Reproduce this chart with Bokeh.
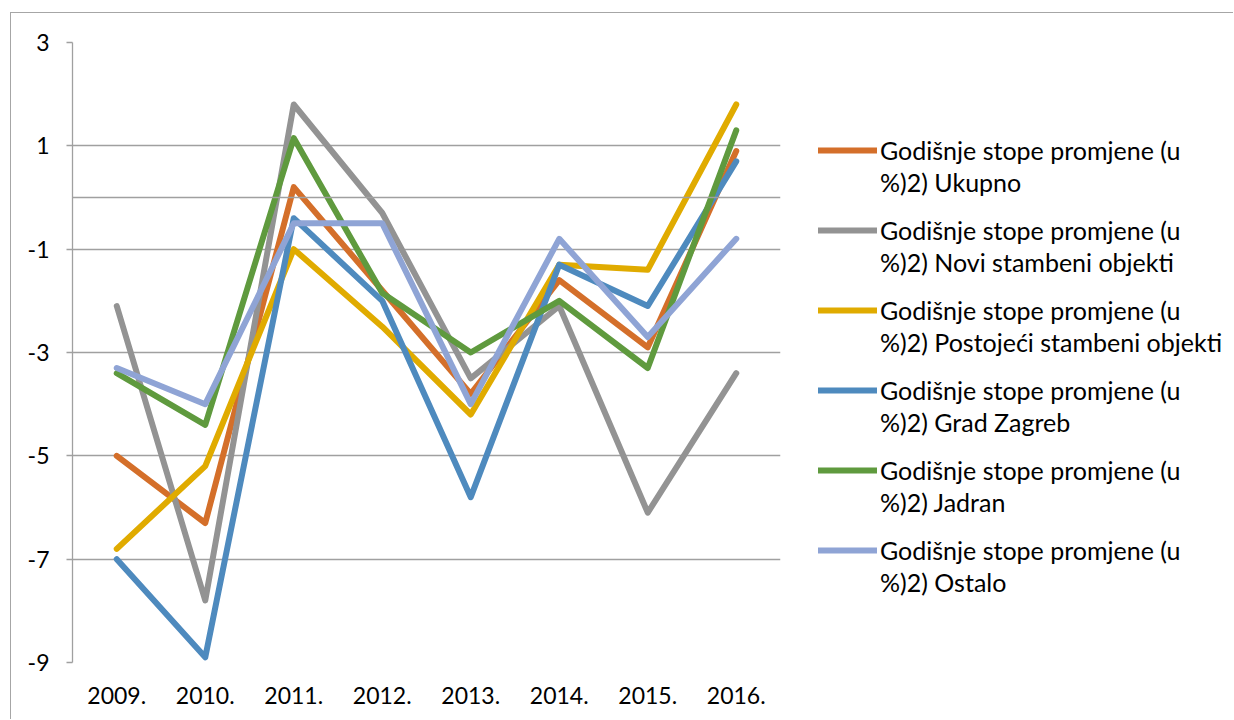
from bokeh.plotting import figure
from bokeh.layouts import row
from bokeh.models import ColumnDataSource, FixedTicker, Span, Legend, LegendItem, PrintfTickFormatter, Range1d
from bokeh.embed import file_html
from bokeh.resources import INLINE

years = ["2009.", "2010.", "2011.", "2012.", "2013.", "2014.", "2015.", "2016."]

ukupno = [-5.0, -6.3, 0.2, -1.8, -3.8, -1.6, -2.9, 0.9]
novi = [-2.1, -7.8, 1.8, -0.3, -3.5, -2.1, -6.1, -3.4]
postojeci = [-6.8, -5.2, -1.0, -2.5, -4.2, -1.3, -1.4, 1.8]
zagreb = [-7.0, -8.9, -0.4, -2.0, -5.8, -1.3, -2.1, 0.7]
jadran = [-3.4, -4.4, 1.15, -1.85, -3.0, -2.0, -3.3, 1.3]
ostalo = [-3.3, -4.0, -0.5, -0.5, -4.0, -0.8, -2.7, -0.8]

label_line1 = ["Godišnje stope promjene (u"] * 6
label_line2 = [
    "%)2) Ukupno",
    "%)2) Novi stambeni objekti",
    "%)2) Postojeći stambeni objekti",
    "%)2) Grad Zagreb",
    "%)2) Jadran",
    "%)2) Ostalo",
]
series_values = [ukupno, novi, postojeci, zagreb, jadran, ostalo]
colors = ["#D46F2A", "#939393", "#E0AB00", "#4E8ABE", "#5F9A3E", "#8FA4D5"]
y_ticks = [3, 1, -1, -3, -5, -7, -9]

FONT = "Lato"
H = 706

p = figure(
    x_range=years, y_range=(-9, 3),
    width=771, height=H,
    output_backend="svg", toolbar_location=None,
    min_border_left=61, min_border_right=2, min_border_top=29, min_border_bottom=57,
)
p.outline_line_color = None
p.background_fill_color = "white"
p.border_fill_color = "white"

p.xgrid.grid_line_color = None
p.ygrid.grid_line_color = "#A0A0A0"
p.ygrid.grid_line_width = 1.3
p.ygrid.ticker = FixedTicker(ticks=y_ticks)

p.yaxis.ticker = FixedTicker(ticks=y_ticks)
p.yaxis.formatter = PrintfTickFormatter(format="%d")
p.yaxis.axis_line_color = "#A0A0A0"
p.yaxis.axis_line_width = 1.3
p.yaxis.major_tick_line_color = "#A0A0A0"
p.yaxis.major_tick_line_width = 1.3
p.yaxis.major_tick_out = 6
p.yaxis.major_tick_in = 0
p.yaxis.minor_tick_line_color = None
p.yaxis.major_label_standoff = 17
p.yaxis.major_label_text_font = FONT
p.yaxis.major_label_text_font_size = "23px"
p.yaxis.major_label_text_color = "#000000"

p.xaxis.axis_line_color = None
p.xaxis.major_tick_line_color = None
p.xaxis.minor_tick_line_color = None
p.xaxis.major_label_standoff = 18
p.xaxis.major_label_text_font = FONT
p.xaxis.major_label_text_font_size = "23px"
p.xaxis.major_label_text_color = "#000000"

p.add_layout(Span(location=0, dimension="width", line_color="#A0A0A0", line_width=1.3))

# legend panel
lp = figure(
    width=1222 - 771, height=H, x_range=Range1d(0, 1), y_range=Range1d(0, 1),
    output_backend="svg", toolbar_location=None,
    min_border_left=0, min_border_right=0, min_border_top=0, min_border_bottom=0,
)
lp.axis.visible = False
lp.grid.visible = False
lp.outline_line_color = None
lp.background_fill_color = "white"
lp.border_fill_color = "white"

items1 = []
items2 = []
for l1, l2, vals, col in zip(label_line1, label_line2, series_values, colors):
    src = ColumnDataSource(dict(x=years, y=vals))
    r = p.line("x", "y", source=src, line_color=col, line_width=6,
               line_cap="round", line_join="round")
    # off-screen proxies so the legend panel can show each series' swatch
    proxy = lp.line(x=[5, 6], y=[5, 6], line_color=col, line_width=6, line_cap="round")
    dummy = lp.line(x=[5, 6], y=[5, 6], line_alpha=0, line_width=0)
    items1.append(LegendItem(label=l1, renderers=[proxy]))
    items2.append(LegendItem(label=l2, renderers=[dummy]))


def style_legend(lg):
    lg.border_line_color = None
    lg.background_fill_alpha = 0
    lg.padding = 0
    lg.margin = 0
    lg.spacing = 50
    lg.glyph_width = 59
    lg.glyph_height = 24
    lg.label_height = 24
    lg.label_standoff = 3
    lg.label_text_font = FONT
    lg.label_text_font_size = "25px"
    lg.label_text_color = "#000000"
    lg.label_text_baseline = "middle"


legend1 = Legend(items=items1, location=(36, 97))
legend2 = Legend(items=items2, location=(36, 65))
style_legend(legend1)
style_legend(legend2)
lp.add_layout(legend1, "center")
lp.add_layout(legend2, "center")

layout = row(p, lp, spacing=0)
layout.styles = {"margin-left": "10px", "margin-top": "12px",
                 "border-left": "1px solid #A6A6A6", "border-top": "1px solid #A6A6A6"}

open("out.html", "w").write(file_html(layout, INLINE))
